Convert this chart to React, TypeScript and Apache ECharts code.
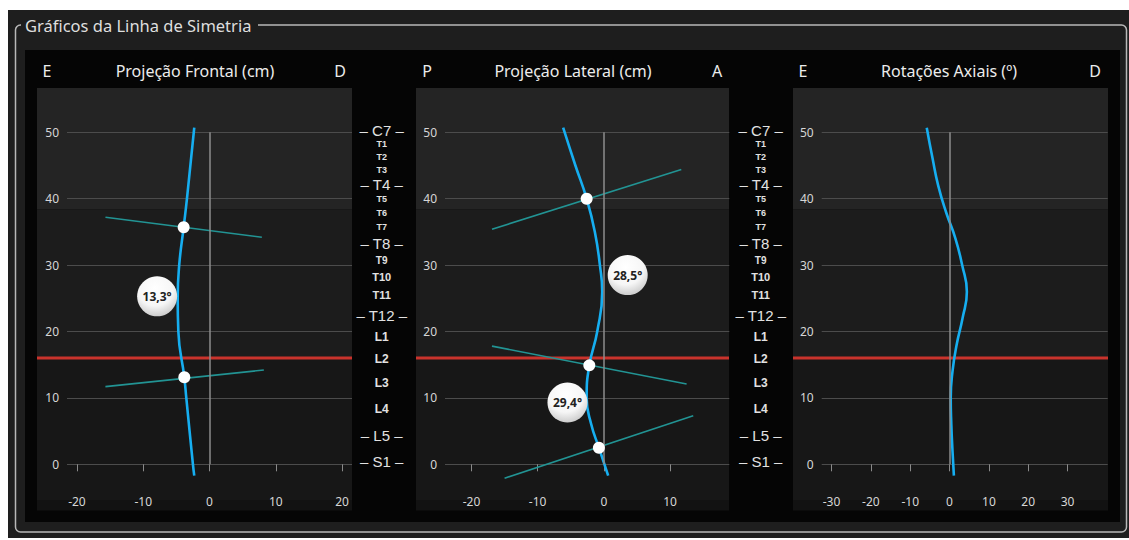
import React, { useEffect, useRef } from "react";
import * as echarts from "echarts";

// ---------- data ----------
const frontalXTicks = [-20, -10, 0, 10, 20];
const lateralXTicks = [-20, -10, 0, 10];
const rotationXTicks = [-30, -20, -10, 0, 10, 20, 30];

const frontalCurve: number[][] = [
  [-2.3, 50.7], [-3.4, 40], [-3.9, 35.7], [-4.57, 30], [-4.8, 25], [-4.7, 20],
  [-3.8, 13.1], [-3.5, 10], [-2.5, 0], [-2.3, -1.7],
];
const frontalTangents: number[][][] = [
  [[-15.7, 37.2], [7.9, 34.2]],
  [[-15.7, 11.7], [8.2, 14.2]],
];
const frontalDots: number[][] = [[-3.9, 35.7], [-3.8, 13.1]];
const frontalAngles = [{ value: [-7.9, 25.3], name: "13,3°" }];

const lateralCurve: number[][] = [
  [-6.15, 50.7], [-4.3, 45], [-2.6, 40], [-1.36, 35], [-0.6, 30], [-0.25, 26],
  [-1.0, 20], [-2.2, 14.9], [-2.6, 10], [-1.9, 6], [-0.75, 2.5], [0.65, -1.7],
];
const lateralTangents: number[][][] = [
  [[-16.9, 35.4], [11.7, 44.4]],
  [[-16.9, 17.8], [12.5, 12.1]],
  [[-15, -2.1], [13.5, 7.3]],
];
const lateralDots: number[][] = [[-2.6, 40.0], [-2.2, 14.9], [-0.75, 2.5]];
const lateralAngles = [
  { value: [3.6, 28.5], name: "28,5°" },
  { value: [-5.5, 9.3], name: "29,4°" },
];

const rotationCurve: number[][] = [
  [-5.8, 50.7], [-4.3, 46], [-2.9, 42], [-0.9, 38], [1.5, 34], [3.2, 30],
  [4.4, 26], [3.3, 22], [1.8, 18], [0.75, 14], [0.3, 10], [0.45, 6],
  [0.75, 2], [1.1, -1.7],
];

const vertebraNames = [
  "C7", "T1", "T2", "T3", "T4", "T5", "T6", "T7", "T8", "T9", "T10", "T11",
  "T12", "L1", "L2", "L3", "L4", "L5", "S1",
];
const vertebraLevels = [
  50.2, 48.3, 46.3, 44.3, 42.2, 40.0, 37.8, 35.7, 33.2, 30.7, 28.2, 25.5,
  22.4, 19.2, 15.9, 12.2, 8.4, 4.4, 0.35,
];
const majorVertebrae = ["C7", "T4", "T8", "T12", "L5", "S1"];

const referenceLevel = 16; // red line
const upperBandLevel = 38.4;

const panelTitles = [
  { left: "E", title: "Projeção Frontal (cm)", right: "D" },
  { left: "P", title: "Projeção Lateral (cm)", right: "A" },
  { left: "E", title: "Rotações Axiais (º)", right: "D" },
];
const groupTitle = "Gráficos da Linha de Simetria";

// ---------- layout / style ----------
const FONT = "'Noto Sans', 'DejaVu Sans', sans-serif";
const CURVE = "#16aef0";
const TEAL = "#229494";
const grids = [
  { left: 67, top: 132.3, width: 285, height: 332 },
  { left: 445, top: 132.3, width: 284.3, height: 332 },
  { left: 821.7, top: 132.3, width: 286, height: 332 },
];
const xRanges = [
  [-21.5, 21.5],
  [-24, 18.95],
  [-32.5, 40.2],
];
const xTickSets = [frontalXTicks, lateralXTicks, rotationXTicks];
const plotBoxes = [
  [37, 352],
  [416, 729],
  [793, 1108],
];
const headerCenters = [
  [47, 195, 340],
  [427, 573, 717],
  [803, 949, 1095],
];
const vertebraColumns = [381.7, 760.7];

function vertebraFont(name: string) {
  if (majorVertebrae.includes(name)) return { size: 15, weight: "normal" };
  if (name.startsWith("L")) return { size: 12, weight: "bold" };
  if (name === "T10" || name === "T11") return { size: 11, weight: "bold" };
  if (name === "T9") return { size: 10, weight: "bold" };
  return { size: 9, weight: "bold" };
}

function buildOption() {
  const xAxis = grids.map((_, i) => ({
    type: "value",
    gridIndex: i,
    min: xRanges[i][0],
    max: xRanges[i][1],
    offset: 21,
    axisLine: { show: false },
    axisTick: {
      show: true,
      length: 7,
      customValues: xTickSets[i],
      lineStyle: { color: "#8a8a8a", width: 1 },
    },
    axisLabel: {
      customValues: xTickSets[i],
      margin: 10,
      color: "#d6d6d6",
      fontSize: 12,
      fontFamily: FONT,
    },
    splitLine: { show: false },
  }));
  const yAxis = grids.map((_, i) => ({
    type: "value",
    gridIndex: i,
    min: 0,
    max: 50,
    interval: 10,
    axisLine: { show: false },
    axisTick: { show: false },
    axisLabel: {
      margin: 8,
      color: "#d6d6d6",
      fontSize: 12,
      fontFamily: FONT,
    },
    splitLine: { show: true, lineStyle: { color: "#4c4c4c", width: 1 } },
  }));

  const series: any[] = [];
  const curves = [frontalCurve, lateralCurve, rotationCurve];
  const tangents = [frontalTangents, lateralTangents, []];
  const dots = [frontalDots, lateralDots, []];
  const angles = [frontalAngles, lateralAngles, []];

  curves.forEach((curve, i) => {
    series.push({
      type: "line",
      xAxisIndex: i,
      yAxisIndex: i,
      data: [],
      silent: true,
      markLine: {
        silent: true,
        symbol: "none",
        label: { show: false },
        lineStyle: { color: "#8c8c8c", width: 1.5, type: "solid" },
        data: [{ xAxis: 0 }],
      },
    });
    tangents[i].forEach((seg) => {
      series.push({
        type: "line",
        xAxisIndex: i,
        yAxisIndex: i,
        data: seg,
        showSymbol: false,
        clip: false,
        silent: true,
        lineStyle: { color: TEAL, width: 1.6 },
        z: 3,
      });
    });
    series.push({
      type: "line",
      xAxisIndex: i,
      yAxisIndex: i,
      data: curve,
      smooth: 0.5,
      showSymbol: false,
      clip: false,
      silent: true,
      lineStyle: { color: CURVE, width: 2.6 },
      z: 4,
    });
    if (dots[i].length) {
      series.push({
        type: "scatter",
        xAxisIndex: i,
        yAxisIndex: i,
        data: dots[i],
        symbolSize: 12,
        clip: false,
        silent: true,
        itemStyle: { color: "#ffffff", opacity: 1 },
        z: 5,
      });
    }
    if (angles[i].length) {
      series.push({
        type: "scatter",
        xAxisIndex: i,
        yAxisIndex: i,
        data: angles[i],
        symbolSize: 40,
        clip: false,
        silent: true,
        itemStyle: {
          opacity: 1,
          color: new echarts.graphic.RadialGradient(0.45, 0.3, 0.8, [
            { offset: 0, color: "#ffffff" },
            { offset: 0.55, color: "#f6f6f6" },
            { offset: 1, color: "#bdbdbd" },
          ]),
        },
        label: {
          show: true,
          position: "inside",
          formatter: "{b}",
          color: "#222222",
          fontWeight: "bold",
          fontSize: 12,
          fontFamily: FONT,
        },
        z: 6,
      });
    }
  });

  return {
    animation: false,
    backgroundColor: "#ffffff",
    grid: grids.map((g) => ({ ...g, outerBoundsMode: "none" })),
    xAxis,
    yAxis,
    series,
  };
}

export default function App() {
  const ref = useRef<HTMLDivElement>(null);
  useEffect(() => {
    const chart = echarts.init(ref.current!, null, { renderer: "svg" });
    chart.setOption(buildOption() as any);

    const yPix = (v: number) =>
      (chart.convertToPixel({ gridIndex: 0 } as any, [0, v]) as number[])[1];
    const yBand = yPix(upperBandLevel);
    const yRef = yPix(referenceLevel);

    const g: any[] = [];
    g.push({ type: "rect", z: -20, shape: { x: 8, y: 10, width: 1121, height: 528 }, style: { fill: "#1e1e1e" } });
    g.push({
      type: "rect", z: -19,
      shape: { x: 15.5, y: 25, width: 1111, height: 507, r: 5 },
      style: { fill: "none", stroke: "#b8b8b8", lineWidth: 1.5 },
    });
    g.push({ type: "rect", z: -18, shape: { x: 21, y: 14, width: 237, height: 20 }, style: { fill: "#1e1e1e" } });
    g.push({
      type: "text", z: -17, x: 25, y: 25,
      style: { text: groupTitle, fill: "#dedede", font: `16.5px ${FONT}`, verticalAlign: "middle", align: "left" },
    });
    g.push({ type: "rect", z: -16, shape: { x: 25, y: 50, width: 1095, height: 472 }, style: { fill: "#050505" } });

    plotBoxes.forEach(([x0, x1], i) => {
      const w = x1 - x0;
      g.push({ type: "rect", z: -15, shape: { x: x0, y: 88, width: w, height: yBand - 88 }, style: { fill: "#242424" } });
      g.push({ type: "rect", z: -15, shape: { x: x0, y: yBand, width: w, height: yRef - yBand }, style: { fill: "#1c1c1c" } });
      g.push({ type: "rect", z: -15, shape: { x: x0, y: yRef, width: w, height: 500 - yRef }, style: { fill: "#171717" } });
      g.push({ type: "rect", z: -15, shape: { x: x0, y: 500, width: w, height: 10.5 }, style: { fill: "#121212" } });
      g.push({
        type: "line", z: 1,
        shape: { x1: x0, y1: yRef, x2: x1, y2: yRef },
        style: { stroke: "#c9332c", lineWidth: 3 },
      });
      const [cl, ct, cr] = headerCenters[i];
      const t = panelTitles[i];
      [[cl, t.left], [ct, t.title], [cr, t.right]].forEach(([cx, txt]) => {
        g.push({
          type: "text", z: 1, x: cx as number, y: 71,
          style: { text: txt as string, fill: "#ececec", font: `16px ${FONT}`, align: "center", verticalAlign: "middle" },
        });
      });
    });

    vertebraColumns.forEach((cx) => {
      vertebraNames.forEach((name, k) => {
        const f = vertebraFont(name);
        const major = majorVertebrae.includes(name);
        g.push({
          type: "text", z: 1, x: cx, y: yPix(vertebraLevels[k]),
          style: {
            text: major ? `– ${name} –` : name,
            fill: "#e2e2e2",
            font: `${f.weight} ${f.size}px 'Liberation Sans', Arial, sans-serif`,
            align: "center",
            verticalAlign: "middle",
          },
        });
      });
    });

    chart.setOption({ graphic: g } as any);
    return () => chart.dispose();
  }, []);
  return (
    <div
      ref={ref}
      style={{ position: "absolute", left: 0, top: 0, width: 1129, height: 540 }}
    />
  );
}
